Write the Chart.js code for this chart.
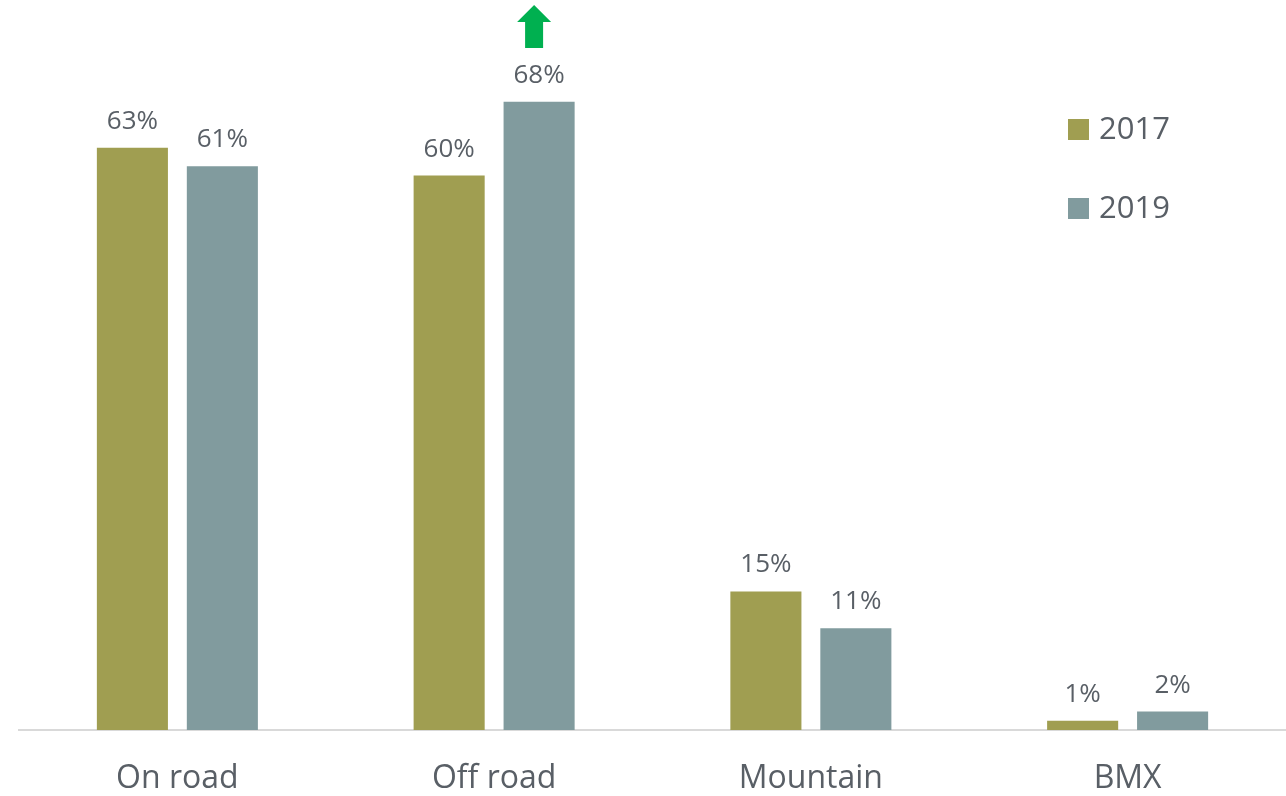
<!doctype html>
<html lang="en">
<head>
  <meta charset="utf-8">
  <title>Bike types</title>
  <script src="https://cdn.jsdelivr.net/npm/chart.js@4"></script>
  <style>
    html, body { margin: 0; padding: 0; background: #fff; }
    #wrap { width: 1286px; height: 796px; position: relative; }
  </style>
</head>
<body>
  <div id="wrap"><canvas id="bikeChart"></canvas></div>

  <script>
    // Data
    var categories = ['On road', 'Off road', 'Mountain', 'BMX'];
    var years = ['2017', '2019'];
    var values2017 = [63, 60, 15, 1];
    var values2019 = [61, 68, 11, 2];
    var colors = ['#A09E51', '#819B9E'];
    var textColor = '#595F66';

    // value labels on top of each bar
    const valueLabels = {
      id: 'valueLabels',
      afterDatasetsDraw(chart) {
        const ctx = chart.ctx;
        ctx.save();
        ctx.font = '26px "Open Sans"';
        ctx.fillStyle = textColor;
        ctx.textAlign = 'center';
        ctx.textBaseline = 'alphabetic';
        chart.data.datasets.forEach(function(ds, i) {
          chart.getDatasetMeta(i).data.forEach(function(bar, j) {
            ctx.fillText(ds.data[j] + '%', bar.x, bar.y - 19);
          });
        });
        ctx.restore();
      }
    };

    // legend drawn inside the plot, top right
    const sideLegend = {
      id: 'sideLegend',
      afterDraw(chart) {
        const ctx = chart.ctx;
        ctx.save();
        ctx.font = '31px "Open Sans"';
        ctx.textAlign = 'left';
        ctx.textBaseline = 'middle';
        chart.data.datasets.forEach(function(ds, i) {
          var y = 129 + i * 79;
          ctx.fillStyle = ds.backgroundColor;
          ctx.fillRect(1068, y - 10, 21, 21);
          ctx.fillStyle = textColor;
          ctx.fillText(ds.label, 1099, y + 1);
        });
        ctx.restore();
      }
    };

    // green "up" arrow above the Off road 2019 bar
    const upArrow = {
      id: 'upArrow',
      afterDraw(chart) {
        const bar = chart.getDatasetMeta(1).data[1];
        const ctx = chart.ctx;
        const cx = bar.x - 5;
        ctx.save();
        ctx.fillStyle = '#00B050';
        ctx.beginPath();
        ctx.moveTo(cx, 5);
        ctx.lineTo(cx + 17, 22);
        ctx.lineTo(cx + 9, 22);
        ctx.lineTo(cx + 9, 48);
        ctx.lineTo(cx - 9, 48);
        ctx.lineTo(cx - 9, 22);
        ctx.lineTo(cx - 17, 22);
        ctx.closePath();
        ctx.fill();
        ctx.restore();
      }
    };

    const chartData = {
      type: 'bar',
      data: {
        labels: categories,
        datasets: [{
          label: years[0],
          data: values2017,
          backgroundColor: colors[0],
          barPercentage: 0.79,
          categoryPercentage: 0.568
        },{
          label: years[1],
          data: values2019,
          backgroundColor: colors[1],
          barPercentage: 0.79,
          categoryPercentage: 0.568
        }]
      },
      options: {
        responsive: true,
        maintainAspectRatio: false,
        animation: false,
        layout: {
          padding: { left: 19, right: 0, top: 0, bottom: 0 }
        },
        plugins: {
          legend: { display: false },
          tooltip: { enabled: false }
        },
        scales: {
          x: {
            grid: { display: false, drawTicks: false },
            border: { display: true, color: '#D9D9D9', width: 2 },
            ticks: {
              color: textColor,
              padding: 30,
              font: { family: 'Open Sans', size: 32 }
            },
            afterFit: function(scale) { scale.height = 66; }
          },
          y: {
            display: false,
            min: 0,
            max: 79
          }
        }
      },
      plugins: [valueLabels, sideLegend, upArrow]
    };

    new Chart(document.getElementById('bikeChart'), chartData);
  </script>
</body>
</html>
